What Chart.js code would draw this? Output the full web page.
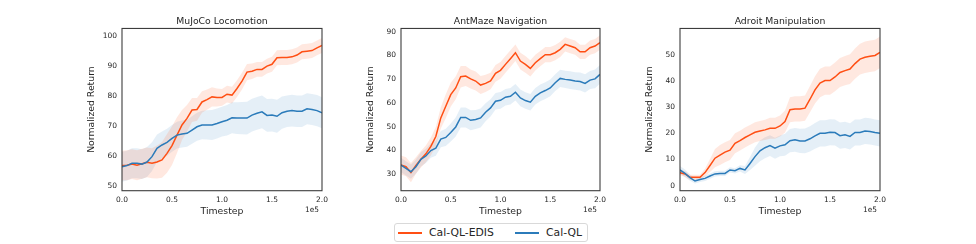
<!DOCTYPE html>
<html>
<head>
<meta charset="utf-8">
<script src="https://cdn.jsdelivr.net/npm/chart.js@4.4.1/dist/chart.umd.min.js"></script>
<style>
  html, body { margin: 0; padding: 0; background: #ffffff; }
  #page { position: relative; width: 976px; height: 244px; overflow: hidden; background: #fff; }
  canvas { position: absolute; top: 0; }
  #legend { position: absolute; left: 394px; top: 223px; width: 192px; height: 17px;
    border: 1px solid #d9d9d9; border-radius: 3px; font-family: "DejaVu Sans", sans-serif;
    font-size: 10.8px; color: #262626; }
  .lg-line { position: absolute; top: 8px; height: 1.6px; width: 24px; }
  .lg-text { position: absolute; top: 1px; line-height: 15px; white-space: nowrap; }
</style>
</head>
<body>
<div id="page">
  <canvas id="c0"></canvas>
  <canvas id="c1"></canvas>
  <canvas id="c2"></canvas>
  <div id="legend">
    <div class="lg-line" style="left:3px;background:#ff4f14;"></div>
    <div class="lg-text" style="left:34px;">Cal-QL-EDIS</div>
    <div class="lg-line" style="left:120px;background:#2b7bba;"></div>
    <div class="lg-text" style="left:151px;">Cal-QL</div>
  </div>
</div>
<script>
// ---------- data (x in units of 1e5 timesteps) ----------
const timesteps = [0, 0.05, 0.1, 0.15, 0.2, 0.25, 0.3, 0.35, 0.4, 0.45, 0.5, 0.55, 0.6, 0.65, 0.7, 0.75, 0.8, 0.85, 0.9, 0.95,
  1.0, 1.05, 1.1, 1.15, 1.2, 1.25, 1.3, 1.35, 1.4, 1.45, 1.5, 1.55, 1.6, 1.65, 1.7, 1.75, 1.8, 1.85, 1.9, 1.95, 2.0];
const xTicks = [0, 0.5, 1.0, 1.5, 2.0];
const seriesNames = ["Cal-QL-EDIS", "Cal-QL"];
const panelTitles = ["MuJoCo Locomotion", "AntMaze Navigation", "Adroit Manipulation"];

// MuJoCo Locomotion
const mujocoEdis = [56.7, 56.8, 57.2, 56.8, 57.3, 57.8, 57.5, 57.9, 58.6, 60.8, 63.4, 66.9, 70.3, 72.5, 75.3, 75.5, 78.0, 78.8, 79.7, 79.5,
  79.5, 80.6, 80.3, 82.5, 85.0, 88.0, 88.3, 88.9, 88.9, 90.0, 90.6, 92.8, 92.9, 92.9, 93.1, 93.7, 94.8, 95.0, 95.2, 96.1, 96.9];
const mujocoEdisStd = [5, 5, 5, 5, 5, 5, 5, 5.5, 6, 6.5, 6.5, 6, 5, 4.5, 4, 3.8, 3.6, 3.4, 3.2, 3,
  2.8, 2.8, 2.8, 2.8, 2.8, 2.7, 2.6, 2.5, 2.5, 2.5, 2.5, 2.5, 2.5, 2.5, 2.5, 2.5, 2.5, 2.5, 2.5, 2.5, 2.5];
const mujocoCalql = [56.3, 56.7, 57.5, 57.5, 57.2, 57.9, 59.7, 62.5, 63.6, 64.5, 65.8, 66.9, 67.3, 67.5, 68.6, 69.7, 70.3, 70.3, 70.3, 70.8,
  71.4, 71.9, 72.7, 72.6, 72.6, 72.6, 73.6, 74.2, 74.7, 73.5, 73.6, 73.2, 74.4, 74.9, 75.1, 74.9, 74.9, 75.7, 75.5, 75.1, 74.4];
const mujocoCalqlStd = [5, 5, 5, 5, 5, 5, 4.8, 4.6, 4.5, 4.5, 4.5, 4.5, 4.5, 4.5, 4.6, 4.7, 4.8, 4.9, 5, 5,
  5, 5.1, 5.2, 5.3, 5.4, 5.5, 5.5, 5.5, 5.5, 5.5, 5.5, 5.5, 5.4, 5.3, 5.3, 5.3, 5.3, 5.2, 5.2, 5.2, 5.2];
const mujocoYTicks = [50, 60, 70, 80, 90, 100];

// AntMaze Navigation
const antmazeEdis = [33.9, 33.2, 30.7, 33.7, 36.3, 38.6, 41.7, 45.9, 53.7, 58.6, 63.5, 66.3, 71.0, 71.3, 70.1, 69.2, 67.5, 68.2, 69.2, 72.4,
  73.7, 76.2, 78.6, 81.1, 77.6, 76.2, 74.5, 76.9, 78.6, 80.3, 80.3, 81.1, 82.5, 84.6, 83.9, 83.2, 81.5, 81.5, 83.2, 83.9, 85.4];
const antmazeEdisStd = [4, 4, 4, 3.5, 3.5, 3.5, 3.8, 4, 4.5, 5, 5, 4.8, 4.5, 4.2, 4, 4, 3.8, 3.6, 3.5, 3.5,
  3.5, 3.5, 3.5, 3.5, 3.5, 3.5, 3.4, 3.3, 3.2, 3.2, 3.2, 3.2, 3.2, 3, 3, 3, 3, 3, 3, 3, 3];
const antmazeCalql = [33.9, 32.5, 31.1, 33.2, 36.3, 37.7, 40.0, 41.0, 44.8, 45.5, 47.6, 49.9, 53.9, 53.9, 52.7, 53.0, 53.7, 56.1, 57.9, 60.7,
  61.1, 62.4, 62.8, 64.5, 62.1, 61.0, 60.3, 62.8, 64.2, 65.2, 66.3, 68.5, 70.3, 69.9, 69.6, 69.2, 69.0, 68.2, 69.6, 70.1, 72.0];
const antmazeCalqlStd = [3, 3, 3, 3, 3, 3, 3, 3.2, 3.4, 3.6, 3.8, 4, 4.2, 4.2, 4.2, 4, 4, 3.8, 3.6, 3.5,
  3.5, 3.5, 3.5, 3.5, 3.5, 3.5, 3.5, 3.5, 3.5, 3.5, 3.5, 3.5, 3.6, 3.6, 3.7, 3.7, 3.8, 3.8, 3.8, 3.9, 3.9];
const antmazeYTicks = [30, 40, 50, 60, 70, 80, 90];

// Adroit Manipulation
const adroitEdis = [5.0, 4.5, 3.2, 3.2, 3.2, 5.0, 7.7, 10.5, 11.7, 12.8, 13.6, 16.2, 17.2, 18.4, 19.4, 20.4, 20.9, 21.3, 21.9, 21.9,
  22.8, 24.5, 29.0, 29.3, 29.3, 29.6, 33.0, 36.6, 39.2, 40.1, 40.1, 41.5, 43.2, 43.9, 44.5, 46.6, 48.3, 49.0, 49.4, 49.7, 50.9];
const adroitEdisStd = [1, 1, 1, 1, 1, 1.5, 2.5, 3.5, 3.8, 3.8, 3.8, 3.8, 3.8, 3.8, 3.8, 3.8, 3.8, 3.9, 4, 4,
  4, 4.2, 4.8, 4.8, 4.8, 4.8, 5, 5.2, 5.4, 5.4, 5.4, 5.5, 5.5, 5.6, 5.7, 5.8, 5.9, 6, 6, 6, 6];
const adroitCalql = [6.0, 4.7, 3.1, 1.8, 2.4, 2.8, 3.7, 4.5, 4.7, 4.7, 6.0, 5.7, 6.6, 6.0, 8.5, 11.1, 13.3, 14.5, 15.3, 14.3,
  15.2, 15.6, 17.2, 17.5, 17.1, 17.1, 17.9, 19.0, 20.0, 20.0, 20.4, 20.3, 19.1, 19.4, 18.8, 20.3, 20.3, 20.9, 20.7, 20.3, 20.0];
const adroitCalqlStd = [1.5, 1.5, 1.2, 1, 1, 1, 1, 1, 1, 1, 1, 1, 1.2, 1.5, 2.5, 3.5, 4, 4, 4, 4,
  4, 4.2, 4.4, 4.5, 4.6, 4.7, 4.8, 4.9, 5, 5, 5, 5, 5, 5, 5, 5, 5, 5, 5, 5, 5];
const adroitYTicks = [0, 10, 20, 30, 40, 50];

// ---------- styling / layout ----------
const FONT = '"DejaVu Sans", sans-serif';
const TEXT = '#262626';
const ORANGE = '#ff4f14', ORANGE_FILL = 'rgba(255, 100, 50, 0.15)';
const BLUE = '#2b7bba', BLUE_FILL = 'rgba(43, 123, 186, 0.12)';
const Y_AXIS_W = 62, RIGHT_PAD = 14, CANVAS_H = 220;

const panels = [
  { id: 'c0', title: panelTitles[0], a: mujocoEdis, as: mujocoEdisStd, b: mujocoCalql, bs: mujocoCalqlStd,
    yMin: 48.3, yMax: 102.6, yTicks: mujocoYTicks, left: 122, width: 200 },
  { id: 'c1', title: panelTitles[1], a: antmazeEdis, as: antmazeEdisStd, b: antmazeCalql, bs: antmazeCalqlStd,
    yMin: 23.1, yMax: 91.3, yTicks: antmazeYTicks, left: 401, width: 198.5 },
  { id: 'c2', title: panelTitles[2], a: adroitEdis, as: adroitEdisStd, b: adroitCalql, bs: adroitCalqlStd,
    yMin: -1.9, yMax: 60, yTicks: adroitYTicks, left: 679.5, width: 200 }
];

const pts = (vals, std, sign) => timesteps.map((t, i) => ({ x: t, y: vals[i] + sign * (std ? std[i] : 0) }));

const framePlugin = {
  id: 'frame',
  afterDraw(chart) {
    const { ctx, chartArea: a } = chart;
    ctx.save();
    ctx.strokeStyle = '#3c3c3c';
    ctx.lineWidth = 1.1;
    ctx.strokeRect(a.left, a.top, a.right - a.left, a.bottom - a.top);
    ctx.fillStyle = TEXT;
    ctx.font = '7.4px ' + FONT;
    ctx.textAlign = 'right';
    ctx.textBaseline = 'middle';
    ctx.fillText('1e5', a.right - 3, 210);
    ctx.restore();
  }
};

panels.forEach(p => {
  const cv = document.getElementById(p.id);
  const w = Math.round(p.width + Y_AXIS_W + RIGHT_PAD);
  cv.width = w; cv.height = CANVAS_H;
  cv.style.width = w + 'px'; cv.style.height = CANVAS_H + 'px';
  cv.style.left = (p.left - Y_AXIS_W) + 'px';

  const band = (color) => ({ borderWidth: 0, pointRadius: 0, backgroundColor: color, tension: 0 });
  new Chart(cv, {
    type: 'line',
    data: {
      datasets: [
        { label: 'edis-up', data: pts(p.a, p.as, 1), ...band(ORANGE_FILL), fill: false, order: 2 },
        { label: 'edis-lo', data: pts(p.a, p.as, -1), ...band(ORANGE_FILL), fill: '-1', order: 2 },
        { label: 'calql-up', data: pts(p.b, p.bs, 1), ...band(BLUE_FILL), fill: false, order: 2 },
        { label: 'calql-lo', data: pts(p.b, p.bs, -1), ...band(BLUE_FILL), fill: '-1', order: 2 },
        { label: seriesNames[1], data: pts(p.b, null, 0), borderColor: BLUE, borderWidth: 1.5, pointRadius: 0, fill: false, tension: 0, order: 0 },
        { label: seriesNames[0], data: pts(p.a, null, 0), borderColor: ORANGE, borderWidth: 1.5, pointRadius: 0, fill: false, tension: 0, order: 1 }
      ]
    },
    options: {
      responsive: false,
      animation: false,
      events: [],
      devicePixelRatio: 1,
      layout: { padding: { left: 0, right: RIGHT_PAD, top: 0, bottom: 0 } },
      plugins: {
        legend: { display: false },
        tooltip: { enabled: false },
        title: { display: true, fullSize: false, text: p.title, color: TEXT,
          font: { family: FONT, size: 9.3, weight: 'normal', lineHeight: 1.2 },
          padding: { top: 16.4, bottom: 0.9 } }
      },
      scales: {
        x: {
          type: 'linear', min: 0, max: 2,
          grid: { display: false, drawTicks: false },
          border: { display: false },
          afterBuildTicks: s => { s.ticks = xTicks.map(v => ({ value: v })); },
          afterFit: s => { s.height = 29.3; },
          ticks: { color: TEXT, padding: 4.5, maxRotation: 0, autoSkip: false,
            font: { family: FONT, size: 7.5 }, callback: v => Number(v).toFixed(1) },
          title: { display: true, text: 'Timestep', color: TEXT,
            font: { family: FONT, size: 9.3, lineHeight: 1.2 }, padding: { top: 0, bottom: 2.5 } }
        },
        y: {
          type: 'linear', min: p.yMin, max: p.yMax,
          grid: { display: false, drawTicks: false },
          border: { display: false },
          afterBuildTicks: s => { s.ticks = p.yTicks.map(v => ({ value: v })); },
          afterFit: s => { s.width = Y_AXIS_W; },
          ticks: { color: TEXT, padding: 5, autoSkip: false,
            font: { family: FONT, size: 7.5 }, callback: v => String(v) },
          title: { display: true, text: 'Normalized Return', color: TEXT,
            font: { family: FONT, size: 9.3, lineHeight: 1.2 }, padding: { top: 26, bottom: 0 } }
        }
      }
    },
    plugins: [framePlugin]
  });
});
</script>
</body>
</html>
